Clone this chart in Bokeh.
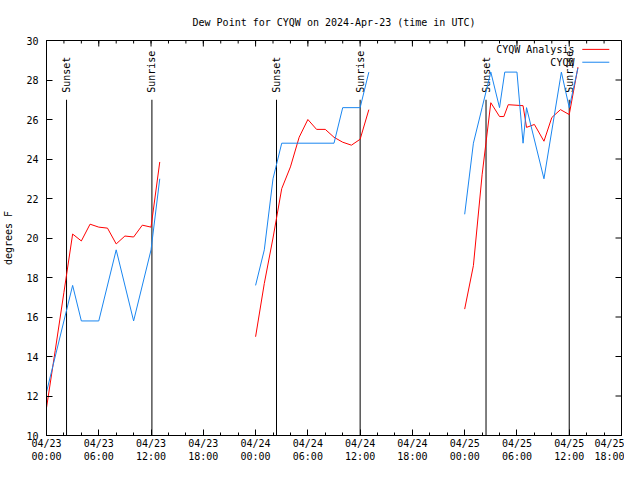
import math
from bokeh.plotting import figure
from bokeh.models import FixedTicker, Label, Arrow, Range1d, ColumnDataSource
from bokeh.core.properties import value
from bokeh.embed import file_html
from bokeh.resources import INLINE

FONT = "DejaVu Sans Mono"
NAN = float("nan")

# x = hours since 2024-04-23 00:00 UTC
analysis_hours = [0, 1, 2, 3, 4, 5, 6, 7, 8, 9, 10, 11, 12, 13, NAN,
                  24, 25, 26, 27, 28, 29, 30, 31, 32, 33, 34, 35, 36, 37, NAN,
                  48, 49, 50, 51, 52, 52.5, 53, 54.7, 55.1, 56, 57.1, 58, 59, 60, 61]
analysis_dewpt = [11.4, 14.3, 17.25, 20.2, 19.85, 20.7, 20.55, 20.5, 19.7, 20.1, 20.05, 20.65, 20.55, 23.85, NAN,
                  15.0, 17.7, 20.0, 22.5, 23.6, 25.1, 26.0, 25.5, 25.5, 25.1, 24.85, 24.7, 25.0, 26.5, NAN,
                  16.4, 18.6, 23.2, 26.85, 26.15, 26.15, 26.75, 26.7, 25.6, 25.75, 24.9, 26.1, 26.5, 26.25, 28.65]

obs_hours = [0, 3, 4, 6, 8, 10, 12, 13, NAN,
             24, 25, 26, 27, 33, 34, 36, 37, NAN,
             48, 49, 50, 51, 52, 52.6, 54, 54.7, 55.1, 57.1, 59.1, 60, 61]
obs_dewpt = [12.2, 17.6, 15.8, 15.8, 19.4, 15.8, 19.4, 23.0, NAN,
             17.6, 19.4, 23.0, 24.8, 24.8, 26.6, 26.6, 28.4, NAN,
             21.2, 24.8, 26.6, 28.4, 26.6, 28.4, 28.4, 24.8, 26.6, 23.0, 28.4, 26.6, 28.6]

sun_hours = [2.3, 12.1, 26.4, 36.0, 50.45, 60.0]
sun_labels = ["Sunset", "Sunrise", "Sunset", "Sunrise", "Sunset", "Sunrise"]

x_ticks = [0, 6, 12, 18, 24, 30, 36, 42, 48, 54, 60, 66]
x_tick_labels = ["04/23\n00:00", "04/23\n06:00", "04/23\n12:00", "04/23\n18:00",
                 "04/24\n00:00", "04/24\n06:00", "04/24\n12:00", "04/24\n18:00",
                 "04/25\n00:00", "04/25\n06:00", "04/25\n12:00", "04/25\n18:00"]
x_minor = list(range(0, 67, 2))
y_ticks = [10, 12, 14, 16, 18, 20, 22, 24, 26, 28, 30]

X0, X1, Y0, Y1 = 0, 66, 10, 30

p = figure(width=624, height=464, output_backend="svg", toolbar_location=None,
           x_range=Range1d(X0, X1), y_range=Range1d(Y0, Y1),
           min_border_left=46, min_border_right=3, min_border_top=40, min_border_bottom=10)
p.grid.visible = False
p.outline_line_color = "black"
p.background_fill_color = "white"
p.border_fill_color = "white"

p.title.text = "Dew Point for CYQW on 2024-Apr-23 (time in UTC)"
p.title.text_font = FONT
p.title.text_font_size = "10px"
p.title.text_font_style = "normal"
p.title.text_color = "black"
p.title.align = "center"
p.title.standoff = 25

xt = FixedTicker(ticks=x_ticks, minor_ticks=x_minor)
yt = FixedTicker(ticks=y_ticks, minor_ticks=[])

for ax in (p.xaxis[0], p.yaxis[0]):
    ax.major_tick_in = 6
    ax.major_tick_out = 0
    ax.minor_tick_in = 3
    ax.minor_tick_out = 0
    ax.major_label_text_font = FONT
    ax.major_label_text_font_size = "10px"
    ax.major_label_text_color = "black"
    ax.axis_line_color = "black"

p.xaxis.ticker = xt
p.xaxis.major_label_overrides = {t: l for t, l in zip(x_ticks, x_tick_labels)}
p.xaxis.major_label_standoff = 2
p.yaxis.ticker = yt
p.yaxis.major_label_standoff = 8
p.yaxis.axis_label = "degrees F"
p.yaxis.axis_label_text_font = FONT
p.yaxis.axis_label_text_font_size = "10px"
p.yaxis.axis_label_text_font_style = "normal"
p.yaxis.axis_label_text_color = "black"
p.yaxis.axis_label_standoff = 9

# mirrored inward ticks on top and right edges, derived from the tick lists
top_major = ColumnDataSource(dict(x=x_ticks, y0=[Y1] * len(x_ticks),
                                  y1=[Y1 - (Y1 - Y0) * 6 / 394] * len(x_ticks)))
top_minor = ColumnDataSource(dict(x=x_minor, y0=[Y1] * len(x_minor),
                                  y1=[Y1 - (Y1 - Y0) * 3 / 394] * len(x_minor)))
right_major = ColumnDataSource(dict(y=y_ticks, x0=[X1] * len(y_ticks),
                                    x1=[X1 - (X1 - X0) * 6 / 575] * len(y_ticks)))
p.segment(x0="x", y0="y0", x1="x", y1="y1", source=top_major, line_color="black")
p.segment(x0="x", y0="y0", x1="x", y1="y1", source=top_minor, line_color="black")
p.segment(x0="x0", y0="y", x1="x1", y1="y", source=right_major, line_color="black")

sun_src = ColumnDataSource(dict(x=sun_hours, y0=[10] * len(sun_hours),
                                y1=[27.0] * len(sun_hours), ty=[27.35] * len(sun_hours),
                                t=sun_labels))
p.segment(x0="x", y0="y0", x1="x", y1="y1", source=sun_src, line_color="black", line_width=1)
p.text(x="x", y="ty", text="t", source=sun_src, angle=math.pi / 2,
       text_align="left", text_baseline="middle",
       text_font=value(FONT), text_font_size="10px", text_color="black")

p.line(analysis_hours, analysis_dewpt, line_color="#ff0000", line_width=1)
p.line(obs_hours, obs_dewpt, line_color="#1a86f0", line_width=1)

# legend (text right-aligned, line sample to the right)
p.add_layout(Label(x=60.6, y=29.53, text="CYQW Analysis", text_align="right",
                   text_baseline="middle", text_font=FONT, text_font_size="10px",
                   text_color="black"))
p.add_layout(Label(x=60.6, y=28.9, text="CYQW", text_align="right",
                   text_baseline="middle", text_font=FONT, text_font_size="10px",
                   text_color="black"))
p.add_layout(Arrow(end=None, x_start=61.5, x_end=64.6, y_start=29.55, y_end=29.55,
                   line_color="#ff0000", line_width=1))
p.add_layout(Arrow(end=None, x_start=61.5, x_end=64.6, y_start=28.9, y_end=28.9,
                   line_color="#1a86f0", line_width=1))

open("out.html", "w").write(file_html(p, INLINE))
